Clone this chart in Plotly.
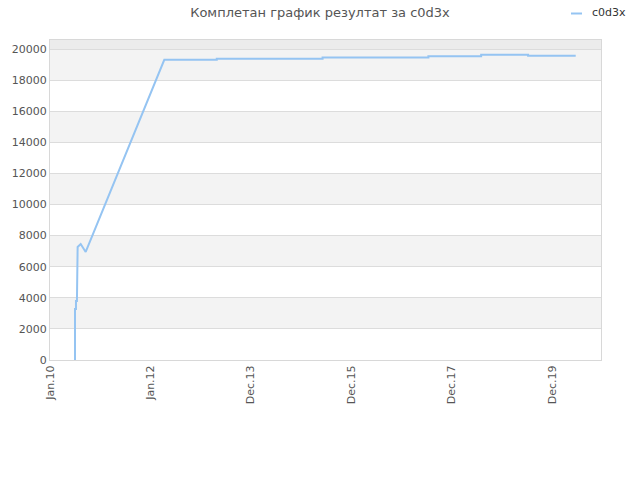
import plotly.graph_objects as go

title = "Комплетан график резултат за c0d3x"
series_name = "c0d3x"

dates = [
    "2010-07-11", "2010-07-11", "2010-07-18", "2010-07-18", "2010-07-25", "2010-07-25",
    "2010-07-30", "2010-08-21", "2010-09-26",
    "2012-04-14", "2013-04-27", "2013-04-27", "2015-05-29", "2015-05-29",
    "2017-06-29", "2017-06-29", "2018-07-14", "2018-07-14", "2019-06-17", "2019-06-17",
    "2020-05-25",
]
values = [
    0, 3280, 3280, 3790, 3790, 4560,
    7270, 7460, 6950,
    19310, 19310, 19380, 19380, 19460,
    19460, 19530, 19530, 19630, 19630, 19570,
    19570,
]

tick_dates = ["2010-01-12", "2012-01-05", "2013-12-28", "2015-12-21", "2017-12-13", "2019-12-06"]
tick_labels = ["Jan.10", "Jan.12", "Dec.13", "Dec.15", "Dec.17", "Dec.19"]
y_ticks = [0, 2000, 4000, 6000, 8000, 10000, 12000, 14000, 16000, 18000, 20000]

line_color = "#95c4f2"

fig = go.Figure()
fig.add_trace(go.Scatter(
    x=dates, y=values, mode="lines", name=series_name, showlegend=False,
    line=dict(color=line_color, width=2),
))

shapes = []
for i in range(len(y_ticks) - 1):
    shapes.append(dict(
        type="rect", xref="paper", yref="y", x0=0, x1=1,
        y0=y_ticks[i], y1=y_ticks[i + 1],
        fillcolor="#ffffff" if i % 2 == 0 else "#f3f3f3",
        line=dict(width=0), layer="below",
    ))
W, H = 640, 480
L, R, T, B = 50, 39, 40, 120
pw, ph = W - L - R, H - T - B
def px(x):
    return (x - L) / pw
def py(y):
    return (H - B - y) / ph
shapes.append(dict(type="line", xref="paper", yref="paper",
                   x0=px(571), x1=px(582), y0=py(13.5), y1=py(13.5),
                   line=dict(color=line_color, width=2)))

fig.update_layout(
    width=W, height=H,
    margin=dict(l=L, r=R, t=T, b=B, autoexpand=False),
    paper_bgcolor="#ffffff",
    plot_bgcolor="#ececec",
    shapes=shapes,
    title=dict(text=title, x=0.5, xref="container", xanchor="center", y=1 - 12 / H, yref="container",
               yanchor="middle",
               font=dict(family="DejaVu Sans", size=13, color="#555555")),
    showlegend=False,
    annotations=[dict(text=series_name, xref="paper", yref="paper", x=px(590), y=py(13),
                      xanchor="left", yanchor="middle", showarrow=False,
                      font=dict(family="DejaVu Sans", size=11, color="#333333"))],
    font=dict(family="DejaVu Sans", size=11, color="#555555"),
)
fig.update_xaxes(
    type="date", range=["2010-01-12", "2020-11-23"],
    tickvals=tick_dates, ticktext=tick_labels, tickangle=-90,
    showgrid=False, showline=True, linecolor="#d8d8d8", mirror=True, zeroline=False,
    tickfont=dict(size=11, color="#555555"), ticks="",
)
fig.update_yaxes(
    range=[0, 20580], tickvals=y_ticks, ticktext=[str(v) for v in y_ticks],
    showgrid=True, gridcolor="#dcdcdc", gridwidth=1,
    showline=True, linecolor="#d8d8d8", mirror=True, zeroline=False,
    tickfont=dict(size=11, color="#555555"), ticks="",
)

fig.write_html("out.html", config={"displayModeBar": False},
               post_script="document.body.style.margin='0';")
